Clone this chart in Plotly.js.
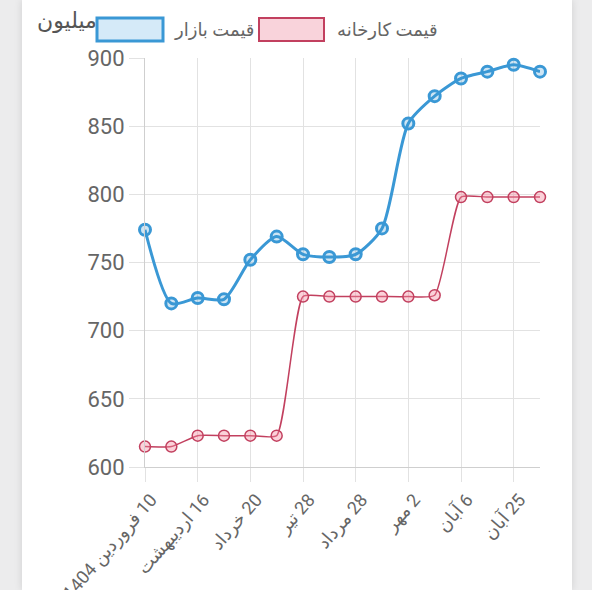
<!DOCTYPE html>
<html>
<head>
<meta charset="utf-8">
<script src="https://cdn.plot.ly/plotly-3.0.1.min.js"></script>
<style>
  html, body { margin: 0; padding: 0; background: #ececed; }
  #card { position: absolute; left: 22px; top: 0; width: 550px; height: 590px; background: #fff;
          box-shadow: 0 0 8px rgba(0,0,0,0.12); }
  #chart { position: absolute; left: 0; top: 0; width: 592px; height: 590px; }
</style>
</head>
<body>
<div id="card"></div>
<div id="chart"></div>
<script>
// 16 readings, only every second one carries a date label
var pointIndex = [0,1,2,3,4,5,6,7,8,9,10,11,12,13,14,15];
var labelIndex = [0,2,4,6,8,10,12,14];
var dateLabels = ['10 فروردین 1404','16 اردیبهشت','20 خرداد','28 تیر','28 مرداد','2 مهر','6 آبان','25 آبان'];

var marketPrice  = [774,720,724,723,752,769,756,754,756,775,852,872,885,890,895,890];
var factoryPrice = [615,615,623,623,623,623,725,725,725,725,725,726,798,798,798,798];

var seriesNames = ['قیمت بازار','قیمت کارخانه'];
var unitLabel = 'میلیون';

var blue = '#3a98d5', red = '#c2405f';
var font = 'Roboto, "DejaVu Sans", sans-serif';

// right-to-left embedding so numbers sit on the right of the month name
function rtl(s){ return '\u202B' + s + '\u202C'; }

var market = {
  x: pointIndex, y: marketPrice, name: seriesNames[0],
  type: 'scatter', mode: 'lines+markers', cliponaxis: false,
  line: {color: blue, width: 3, shape: 'spline', smoothing: 0.7},
  marker: {size: 11, color: 'rgba(58,152,213,0.25)', line: {color: blue, width: 3}}
};
var factory = {
  x: pointIndex, y: factoryPrice, name: seriesNames[1],
  type: 'scatter', mode: 'lines+markers', cliponaxis: false,
  line: {color: red, width: 1.5, shape: 'spline', smoothing: 0.5},
  marker: {size: 11, color: 'rgba(245,140,160,0.4)', line: {color: red, width: 1.5}}
};

// px -> paper helpers (plot area is 145..540 x 58..467)
function px(v){ return (v - 145) / 395; }
function py(v){ return (467 - v) / 409; }

var layout = {
  width: 592, height: 590,
  margin: {l: 145, r: 52, t: 58, b: 123},
  paper_bgcolor: 'rgba(0,0,0,0)', plot_bgcolor: 'rgba(0,0,0,0)',
  showlegend: false,
  font: {family: font, color: '#666'},
  xaxis: {
    range: [0, 15], tickvals: labelIndex, ticktext: dateLabels.map(rtl), tickangle: -49,
    ticklabelshift: 6,
    showgrid: true, gridcolor: '#e2e2e2', zeroline: false,
    showline: true, linecolor: '#cfcfcf', linewidth: 1,
    ticks: 'outside', ticklen: 14, tickcolor: '#e2e2e2',
    tickfont: {size: 18, color: '#666'}, fixedrange: true
  },
  yaxis: {
    range: [600, 900], dtick: 50,
    showgrid: true, gridcolor: '#e2e2e2', zeroline: false,
    showline: true, linecolor: '#cfcfcf', linewidth: 1,
    ticks: 'outside', ticklen: 15, tickcolor: '#e2e2e2',
    tickfont: {size: 22, color: '#666'}, fixedrange: true
  },
  shapes: [
    {type: 'rect', xref: 'paper', yref: 'paper', x0: px(97), x1: px(163), y0: py(41), y1: py(18),
     fillcolor: '#d5eaf8', line: {color: blue, width: 3}},
    {type: 'rect', xref: 'paper', yref: 'paper', x0: px(259), x1: px(324), y0: py(41), y1: py(18),
     fillcolor: '#f9d3db', line: {color: red, width: 2}}
  ],
  annotations: [
    {text: unitLabel, xref: 'paper', yref: 'paper', x: px(99), y: py(21), xanchor: 'right', yanchor: 'middle',
     showarrow: false, font: {size: 22, color: '#555'}},
    {text: seriesNames[0], xref: 'paper', yref: 'paper', x: px(172), y: py(30), xanchor: 'left', yanchor: 'middle',
     showarrow: false, font: {size: 18, color: '#666'}},
    {text: seriesNames[1], xref: 'paper', yref: 'paper', x: px(335), y: py(30), xanchor: 'left', yanchor: 'middle',
     showarrow: false, font: {size: 18, color: '#666'}}
  ]
};

Plotly.newPlot('chart', [factory, market], layout, {displayModeBar: false, staticPlot: true});
</script>
</body>
</html>
